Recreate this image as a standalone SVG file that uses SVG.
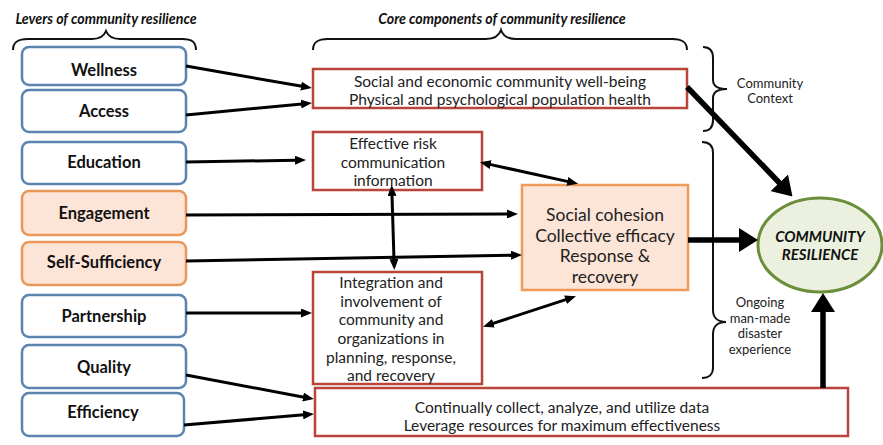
<svg xmlns="http://www.w3.org/2000/svg" width="883" height="445" viewBox="0 0 883 445">
  <style>
    .lever rect { fill: #ffffff; stroke: #5B84B1; stroke-width: 2.5; }
    .lever.warm rect { fill: #FCE4D6; stroke: #E9975A; }
    .lever text { font-family: Lato, "Liberation Sans", sans-serif; font-weight: bold; font-size: 16.5px; fill: #111; text-anchor: middle; }
    .core rect { fill: #ffffff; stroke: #B9453A; stroke-width: 2.5; }
    .core text { font-family: Lato, "Liberation Sans", sans-serif; font-size: 15.5px; fill: #222; text-anchor: middle; }
    .hub rect { fill: #FCE4D6; stroke: #EE9A5A; stroke-width: 2.5; }
    .hub text { font-family: Lato, "Liberation Sans", sans-serif; font-size: 17.5px; fill: #222; text-anchor: middle; }
    .goal ellipse { fill: #EBF1DE; stroke: #6B8E3A; stroke-width: 3; }
    .goal text { font-family: Lato, "Liberation Sans", sans-serif; font-weight: bold; font-style: italic; font-size: 15px; fill: #111; text-anchor: middle; }
    .head { font-family: Lato, "Liberation Sans", sans-serif; font-weight: bold; font-style: italic; font-size: 14.2px; fill: #111; text-anchor: middle; }
    .note { font-family: Lato, "Liberation Sans", sans-serif; font-size: 13px; fill: #222; text-anchor: middle; }
    .brace { fill: none; stroke: #111; stroke-width: 2; }
    .thin { stroke: #000; stroke-width: 3; fill: none; marker-end: url(#tip); }
    .both { marker-start: url(#tip); }
    .thick { stroke: #000; stroke-width: 5.5; fill: none; marker-end: url(#bigtip); }
  </style>
  <defs>
    <marker id="tip" markerUnits="userSpaceOnUse" markerWidth="11" markerHeight="9" refX="1" refY="4.5" orient="auto-start-reverse">
      <path d="M0,0 L11,4.5 L0,9 z" fill="#000"/>
    </marker>
    <marker id="bigtip" markerUnits="userSpaceOnUse" markerWidth="19" markerHeight="24" refX="1" refY="12" orient="auto">
      <path d="M0,0 L19,12 L0,24 z" fill="#000"/>
    </marker>
  </defs>

  <!-- section headings and braces -->
  <text class="head" x="106" y="24">Levers of community resilience</text>
  <text class="head" x="502" y="24">Core components of community resilience</text>
  <path class="brace" d="M13,50 C13,42 18,39 28,39 L92,39 C100,39 104,36 106,31 C108,36 112,39 120,39 L182,39 C192,39 196,42 196,50"/>
  <path class="brace" d="M313,50 C313,42 318,39 328,39 L486,39 C494,39 499,36 501,30 C503,36 508,39 516,39 L672,39 C682,39 687,42 687,50"/>
  <path class="brace" d="M703,47 C710,47 713,51 713,58 L713,80 C713,86 717,89 727,89 C717,89 713,92 713,98 L713,120 C713,127 710,131 703,131"/>
  <path class="brace" d="M702,142 C709,142 713,146 713,153 L713,310 C713,317 717,322 726,322 C717,322 713,327 713,334 L713,368 C713,374 709,378 702,378"/>
  <text class="note" x="770" y="88">Community</text>
  <text class="note" x="770" y="103">Context</text>
  <text class="note" x="760" y="307">Ongoing</text>
  <text class="note" x="760" y="322.5">man-made</text>
  <text class="note" x="760" y="338">disaster</text>
  <text class="note" x="760" y="353.5">experience</text>

  <!-- levers -->
  <g id="wellness" class="lever"><rect x="22" y="47" width="164" height="38" rx="7"/><text x="104" y="76">Wellness</text></g>
  <g id="access" class="lever"><rect x="22" y="90" width="164" height="42" rx="7"/><text x="104" y="117">Access</text></g>
  <g id="education" class="lever"><rect x="22" y="142" width="164" height="42" rx="7"/><text x="104" y="168">Education</text></g>
  <g id="engagement" class="lever warm"><rect x="22" y="191" width="164" height="44" rx="7"/><text x="104" y="219">Engagement</text></g>
  <g id="self-sufficiency" class="lever warm"><rect x="22" y="242" width="164" height="43" rx="7"/><text x="104" y="268">Self-Sufficiency</text></g>
  <g id="partnership" class="lever"><rect x="22" y="295" width="164" height="42" rx="7"/><text x="104" y="322">Partnership</text></g>
  <g id="quality" class="lever"><rect x="22" y="345" width="164" height="43" rx="7"/><text x="104" y="373">Quality</text></g>
  <g id="efficiency" class="lever"><rect x="22" y="393" width="162" height="43" rx="7"/><text x="103" y="418">Efficiency</text></g>

  <!-- core components -->
  <g id="wellbeing" class="core">
    <rect x="313" y="69" width="374" height="39"/>
    <text x="500" y="87">Social and economic community well-being</text>
    <text x="500" y="105">Physical and psychological population health</text>
  </g>
  <g id="risk-communication" class="core">
    <rect x="313" y="132" width="169" height="58"/>
    <text x="393" y="149">Effective risk</text>
    <text x="393" y="168">communication</text>
    <text x="393" y="186">information</text>
  </g>
  <g id="integration" class="core">
    <rect x="313" y="272" width="169" height="112"/>
    <text x="391" y="288">Integration and</text>
    <text x="391" y="306.5">involvement of</text>
    <text x="391" y="325">community and</text>
    <text x="391" y="344">organizations in</text>
    <text x="391" y="362.5">planning, response,</text>
    <text x="391" y="381">and recovery</text>
  </g>
  <g id="data" class="core">
    <rect x="315" y="388" width="533" height="48"/>
    <text x="562" y="413">Continually collect, analyze, and utilize data</text>
    <text x="562" y="431">Leverage resources for maximum effectiveness</text>
  </g>
  <g id="cohesion" class="hub">
    <rect x="522" y="185" width="166" height="105"/>
    <text x="605" y="221">Social cohesion</text>
    <text x="605" y="242">Collective efficacy</text>
    <text x="605" y="262">Response &amp;</text>
    <text x="605" y="283">recovery</text>
  </g>

  <!-- outcome -->
  <g id="community-resilience" class="goal">
    <ellipse cx="820" cy="245" rx="62" ry="47"/>
    <text x="820" y="242">COMMUNITY</text>
    <text x="820" y="260">RESILIENCE</text>
  </g>

  <!-- connectors -->
  <g id="connectors">
    <line class="thin" x1="186" y1="66" x2="302" y2="86.3"/>
    <line class="thin" x1="186" y1="115" x2="302" y2="103.9"/>
    <line class="thin" x1="186" y1="162" x2="296" y2="160.2"/>
    <line class="thin" x1="186" y1="215" x2="508" y2="214"/>
    <line class="thin" x1="186" y1="261" x2="512" y2="255.2"/>
    <line class="thin" x1="186" y1="313" x2="302" y2="313"/>
    <line class="thin" x1="186" y1="375" x2="304" y2="397.2"/>
    <line class="thin" x1="184" y1="425" x2="304" y2="414.8"/>
    <line class="thin both" x1="392" y1="195" x2="394" y2="260"/>
    <line class="thin both" x1="489.7" y1="164.4" x2="568.3" y2="181.6"/>
    <line class="thin both" x1="492.5" y1="323.6" x2="566.5" y2="299.4"/>
    <line class="thick" x1="687" y1="87" x2="780" y2="183.5"/>
    <line class="thick" x1="688" y1="240" x2="740" y2="240"/>
    <line class="thick" x1="823" y1="388" x2="823" y2="311"/>
  </g>
</svg>
